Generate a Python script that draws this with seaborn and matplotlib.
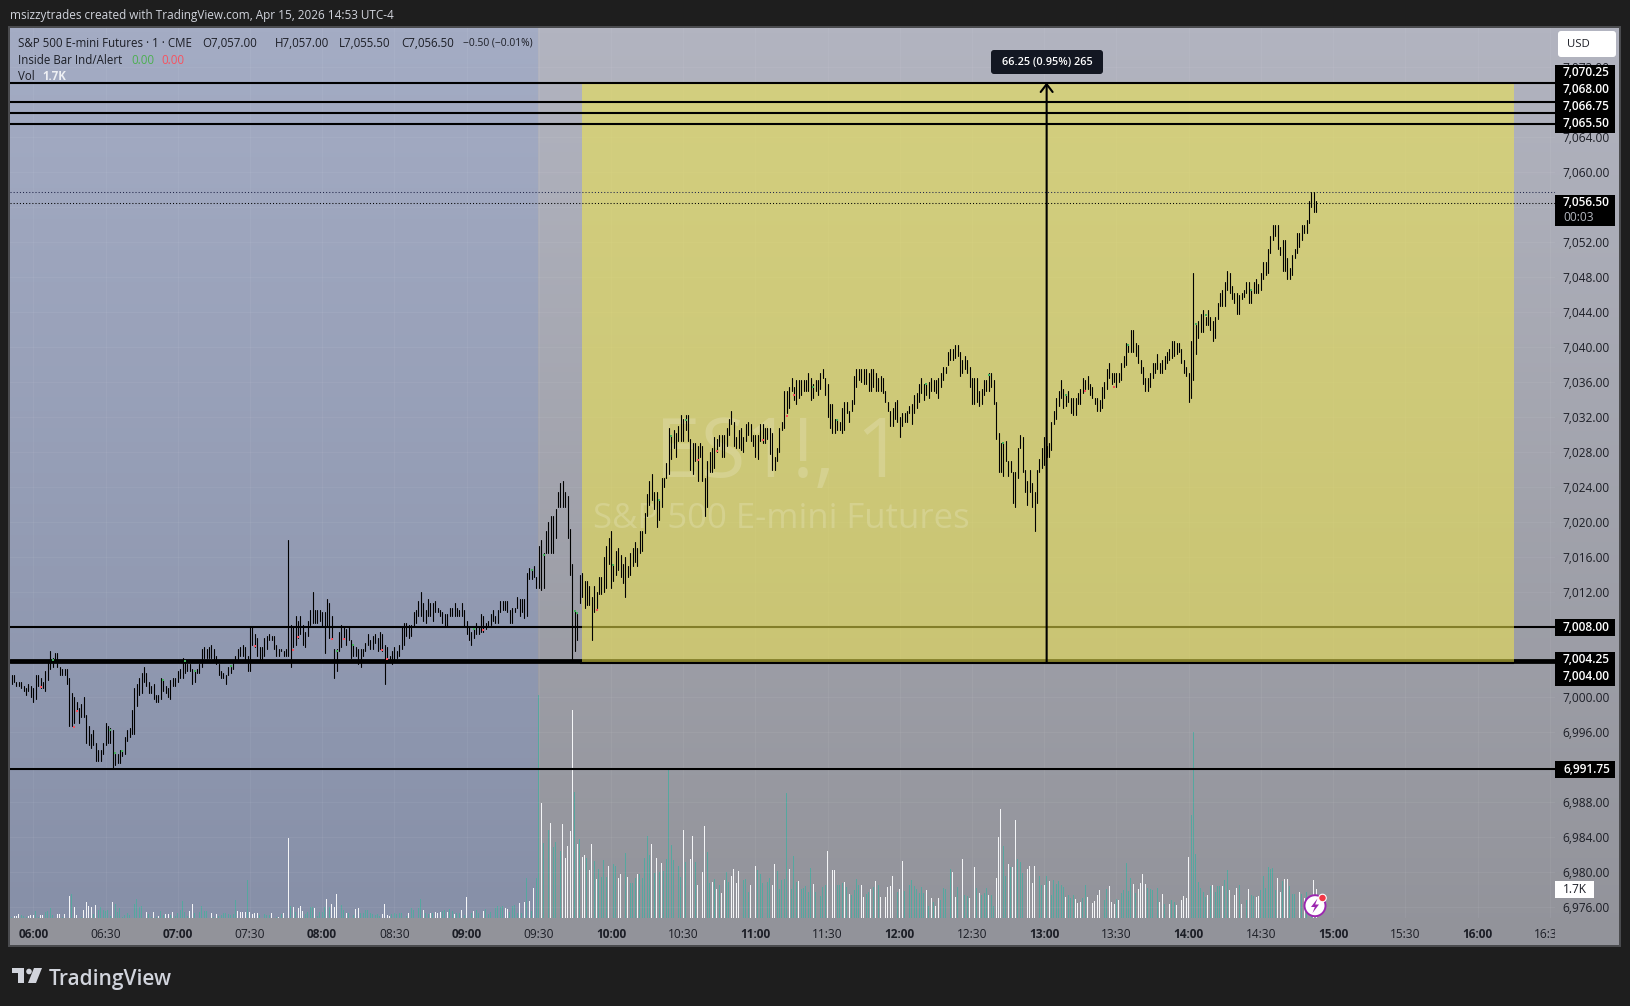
import numpy as np
import pandas as pd
import matplotlib
matplotlib.use("Agg")
import matplotlib.pyplot as plt
import seaborn as sns
from matplotlib.patches import Rectangle, FancyBboxPatch, Circle, Polygon

# --- data: one minute bars, first bar is 05:51 -------------------------------
first_minute = -9  # minutes after 06:00
price_base = 7000

bar_high = [
    2.5,2.5,1.75,1.75,1.75,1.25,1,1.5,1.25,1,
    2.5,2.5,2.25,1.75,3,4,5.25,4.5,5,5,
    3.5,3.25,3.25,3.25,2.25,.5,0,-.5,-1.25,-.75,
    0,-2,-3.25,-4.25,-3.75,-5.25,-6,-6,-5.25,-3,
    -3.25,-3.5,-3.75,-6.5,-6.5,-6,-6,-4.5,-3.75,-3.5,
    -1.5,1,1.5,2.25,2.75,3.5,2.75,1.75,1.25,1.5,
    .25,.25,2.25,2,1.25,1,2,2.25,2.25,3,
    3.25,4.5,4.25,3.75,3.75,3.25,3,3.25,3.75,5.5,
    5.75,5.5,5.75,6,5.5,4.75,3.75,3,2.75,2.5,
    3.5,3.5,4.25,4.75,5.5,5.75,6,5.75,4.75,8,
    8,7.25,6.75,5.75,5.75,6.75,7,7.25,7,7,
    6,5.5,5.5,5.25,5.5,18,8.25,8,9.25,8.75,
    9.25,8.25,7.5,8.75,10,12,10,10,10,9.75,
    9.75,11.25,10.75,9.25,5.5,5.5,7.5,8.25,8,7.75,
    8,6.5,6,5.75,5.5,5.5,5.5,6.25,7.25,6.5,
    7,7.25,6.75,7.5,7.25,6,5.75,4.75,5.25,5.75,
    5.25,6,8,8.5,8.5,8.25,8.25,9.75,10,11,
    12,10.75,10,11.25,10.75,10.75,11,10.25,10,9.75,
    9.5,9.5,10.25,10.25,10.75,10.25,10,10.75,10,8.75,
    8,7.5,7.75,8.5,8,9.5,9.25,8.5,8.75,9.5,
    10,9.25,10,11,11,11,11,10,10.25,10.25,
    11.5,11.25,11.25,11.25,14.25,14.75,14.5,15,13.75,17.25,
    18,16.5,19,20,20.75,20.75,21.5,23.5,24.5,24.75,
    23.5,23,19.25,15.25,9.75,9.5,14,14.25,13.25,13.25,
    12.75,11.5,12.75,12,13.75,13.75,16,17.25,18.25,19,
    15.25,16.75,17,16.25,15.25,16,15,16.5,17,17.75,
    17,19,19,21,23.25,24.75,25.5,23.5,23.5,22.5,
    25,25,26.75,30.75,30,30.5,30.25,31,32.25,31.75,
    32.25,32.25,29.5,29,29,28.75,29,28.75,25,27,
    28,28.5,29.75,29.5,30,30,30,30.75,31.75,32.75,
    31.5,29.75,30.5,30.75,29.75,31.25,31.5,31.25,30,30,
    30,31.25,31.25,30.75,30.75,30.75,30.25,27.5,28.5,30.75,
    31.5,35,35,35.5,36.5,35.5,36.25,36.25,36.25,36.25,
    36.25,37,36.5,35.75,36.25,36.25,37,37.5,36.5,35.75,
    33.5,33.5,31.75,31.75,31.5,33,33.75,33.75,32.75,34,
    36.75,37.5,37.5,37.5,37.5,37.5,37,37.5,37.5,37,
    36.5,36.75,36.5,35,33.75,32.75,33,33.75,34,32,
    32.5,32.5,32.75,33.25,33.5,34.5,34.75,35.75,36.5,35.75,
    35.75,36,36.5,36.25,36.25,36.5,37,37.75,37.75,39.5,
    39.75,39.75,40.25,40.25,39.5,38.5,39,38.5,37.75,36.5,
    36.5,36.5,35,35.25,36.25,36.25,37,37,36.25,33.75,
    30.25,29,29,29.25,27,27,25.75,25.75,28.5,30,
    29.75,26,24.75,26,24.5,23.5,26,27.25,28.5,29.75,
    28.75,29,31.5,32.75,34.25,35,36.25,35.25,34.5,35,
    34.25,34.25,34.25,34.75,35.25,36.5,36.25,36.75,35.75,35.5,
    34.25,34.25,34,35.5,36,37.5,38.25,37,37,37,
    37,38.25,39,40.5,40.25,42,42,40.5,40.25,38.5,
    37.75,36.5,36.5,37,38.25,38.25,39.25,38.25,38.5,39,
    39.5,39.75,40.75,40.75,40.5,40.5,39.75,38.5,37.75,37,
    40.75,48.5,42.5,43,43.75,44.25,43.5,44.25,43.5,43,
    43.5,45,46.25,46.5,47.5,48.75,48.5,47,46.25,46.25,
    46,46.25,46.5,47.5,47.5,46.5,47.5,47.75,47.25,48.5,
    49.75,49.75,51.25,52.75,54,54,54,51.5,52.25,52.25,
    50.25,49,50.5,51.25,53,53,54,54,54.5,56.75,57.75,57.75,56.75,
]
bar_low = [
    1.5,1.75,1.25,1.25,1,.75,.25,.75,0,-.5,
    -.25,1.25,1,1,.75,2,3.25,3.5,4,3.5,
    2.5,2.5,2.5,1.5,-3.25,-3.25,-3,-1.5,-3,-2.25,
    -2.25,-5.25,-5.5,-5.75,-5.5,-7.25,-7.25,-7.25,-6.5,-5.5,
    -5.25,-5.25,-8.25,-7.75,-7.5,-7.5,-6.75,-6.5,-5,-4.5,
    -4.25,-4.25,-1,.25,.5,1.75,1.25,.5,.5,-.25,
    -.5,-.5,-.25,.75,.5,0,-.25,1.25,1.25,1.75,
    2.25,2.25,2.75,3,3,1.5,1.75,2.75,2.75,3.5,
    4.5,4.5,4.5,4.5,4.25,3.75,2.5,2.25,2.25,1.5,
    2.5,2.75,3.25,4,4.25,4.75,4.75,4,3,3,
    6,5.75,4.75,4.25,4.25,4.75,5.5,6.5,6.5,5.5,
    4.75,4.75,5.25,4.75,4.75,4.75,3.5,5.75,6,6.75,
    7.25,6,5.75,7,8.25,8.5,8.5,8.5,8.75,8,
    5,8,6.75,6.75,2.25,3,5.25,5.75,6.75,6,
    6.5,4.5,4.75,4.75,3.75,3.5,4.75,5.25,6,5.5,
    5.5,6.25,5.25,5.5,5.25,1.5,4.5,4,3.75,4,
    4.5,4.75,5.5,6,7,6.75,7,8,8.5,9.25,
    9.25,8.75,8.5,9.25,9.25,8.75,9.75,9.75,9.25,8.5,
    8,8,9.25,9.25,9.25,9.25,9.25,9.25,8,7.25,
    6.5,6,6.75,7.25,7.25,7.5,7.5,7.75,8,8.25,
    8.75,8.5,8.5,9.75,10,10,9.75,8.5,8.5,9.75,
    10.25,9.25,9.75,9,9.25,13.5,13.5,13.75,12.5,12.5,
    12.25,12.5,16.5,16.5,16.5,16.5,18.25,21.75,21.75,21.75,
    21.75,18.25,14,4.25,5.25,6.5,10.75,11.5,10.25,10.5,
    10.5,6.5,9.75,10.25,11.75,11.75,12,12.5,15.25,12.5,
    13.25,14,14.5,13.75,13,11.5,13.75,14,15,15.5,
    15,16.5,16.75,18.75,20.75,22,22.5,21.5,19.5,20.25,
    21.75,24,25,25.5,27.25,28.5,27.5,29.25,29.25,29.25,
    30.5,29.25,26,25.5,27,24.75,27.5,24.75,20.75,21.75,
    25.75,25.75,26.25,28,28.75,27.5,27.5,28.75,30,31.25,
    28.75,28.5,28.5,28.25,28,29.25,30,29.25,28.75,27.5,
    27.25,29.25,29,29,29.5,27.75,26,26,27,28,
    30.5,30.75,32.5,33,35,34,33.5,34.25,34.5,35,
    35,35,34,34.25,35,34.5,35.25,36.5,34.5,32,
    30.75,30.25,30.25,30.5,30.5,30.25,30.5,32.5,31.5,32.75,
    33.5,35.5,36.25,36,35.75,35.75,35,35,35.5,35,
    35,35,34.75,33.75,32.75,31,31,31.75,31.5,29.75,
    31,31.5,31.5,32.5,31.25,32.5,33,33.75,34.75,34,
    34.5,34.25,35,35,34.75,34.25,35.5,36.25,37,38,
    38.5,38.5,38.75,39,36.75,37,37.5,37,35.5,33.5,
    33.5,33.75,33.25,33.5,34.5,35,35,35.5,33.5,29.5,
    25.75,25.75,25.25,27,25.25,25.75,22.25,21.75,25,28.5,
    25.75,23.5,22,23.5,21.75,19,22.25,25.75,26.25,26.5,
    27.5,27.5,28.25,31.25,31.75,33.25,34.25,33,33.25,33.75,
    32.5,32.25,32.25,33.5,33.5,34.75,35.25,35.25,34.5,34.25,
    33.5,32.75,32.75,33,34.25,35.25,36.5,35.75,36,35.5,
    36,36.25,37.75,38,39.5,39.5,39.5,39,38.25,37,
    35.75,35,35,35.5,36.5,37,37.5,37,37,37.5,
    38.25,38.5,38.75,39,39.25,39.5,38.25,37,36.75,33.75,
    34.25,36.25,39.25,41,41.75,41.75,42.5,42.5,42,40.75,
    41,43.25,44.75,44.75,44.75,46.5,46.25,45.5,45,43.75,
    43.75,45.5,45.75,46.25,45,45,46.25,46.25,46.25,46.5,
    47.75,48.25,48.5,50.75,52.25,52.75,51.25,50.5,48.75,48.75,
    47.75,47.75,48.25,50.25,50.75,51.5,52.25,53,53,54.25,56,55.5,55.5,
]

# volume in thousands, t = teal (up), w = white (down)
vol_k = [
    .08,.1,.12,.26,.2,.12,.08,.12,.2,.16,
    .44,.06,.16,.16,.36,.4,.58,.16,.1,.26,
    .26,.06,.22,.3,1.36,1.48,.64,.2,.4,.06,
    .46,1,.7,.66,.26,.76,.5,.68,.46,.4,
    .46,.1,1,.82,.36,.58,.06,.2,.3,.16,
    1.2,.86,1.14,.66,.74,.56,.34,.26,.08,.34,
    .06,.1,.44,.16,.26,.22,.16,.34,.1,.32,
    .46,1.06,.36,.1,.4,.86,.3,.3,.34,.74,
    .44,.4,.26,.32,.08,.26,.12,.2,.28,.28,
    .22,.2,.24,1.08,.4,.36,.36,.36,2.3,.36,
    .24,.32,.28,.2,.2,.26,.2,.2,.28,.4,
    .08,.08,.26,.28,.1,4.87,.74,.66,.36,.6,
    .72,.42,.26,.36,.66,.66,.6,.1,.36,.36,
    .66,1.16,.66,.84,.64,1.44,.36,.76,.5,.3,
    .32,.36,.16,.56,.6,.3,.3,.5,.5,.3,
    .26,.16,.26,.1,.26,.86,.18,.12,.24,.3,
    .26,.3,.3,.36,.1,.3,.6,.5,.5,.6,
    1.16,.46,.3,.26,.3,.3,.34,.3,.36,.4,
    .5,.36,.56,.4,.26,.3,.32,.5,.2,1.3,
    1,.3,.4,.46,.3,.7,.4,.56,.26,.36,
    .3,.6,.7,.66,.7,.6,.56,.34,.7,.76,
    .3,.9,.3,1,2.44,1.06,.4,1.8,2.44,13.5,
    6.95,4.57,5.94,5.33,5.74,4.32,4.6,5.43,4.06,5.7,
    3.66,4.36,5.27,12.6,7.64,4.48,4.79,3.72,3.82,3.66,
    2.9,4.5,3.47,2.38,2.95,2.5,3.5,2.5,3.15,5.7,
    3.25,3.15,2.42,2.67,3.4,3.96,2.5,2.1,2.1,2.42,
    2.67,2.67,2.42,3.66,4.97,3.82,4.48,2.75,3.64,2.8,
    3.35,2.87,3.56,9.07,4.42,3.5,2.67,3.15,2.5,5.33,
    3.4,3.92,3.6,4.97,3.4,2,1.86,2.8,5.58,4,
    2.14,2.2,2.34,1.74,2,1.54,2.3,2.8,2.2,2.55,
    2.97,2.1,2.85,1.6,2.3,2.34,1.6,2,2.2,3.15,
    2.9,2.67,2.1,2.14,2.2,2.4,2,3.27,2.85,1.74,
    2.3,2.34,7.6,2.97,1.74,3.76,2.2,2.26,1.78,1.82,
    1.94,1.6,3.05,2.06,1.58,1.82,1.33,1.86,2,4.06,
    3.88,2.9,2.9,1.98,2,2.14,2.2,1.9,1.45,1.37,
    1.7,2.34,2,2,1.3,1.45,1.6,1.74,1.9,2.24,
    2,1.25,1.3,1.25,1.86,1.94,2.55,1.94,1.58,1.76,
    3.45,1.62,1.9,2,2.3,1.94,1.74,1.54,1.9,1.5,
    1.7,.7,1.2,1,.73,1.2,1.1,1.8,1.74,1.4,
    3,2.8,1.25,1.86,1.33,3.55,1.4,1.33,1.2,1.8,
    3.07,1.8,1.5,1.4,1.54,1.8,1.4,1.4,.7,2.4,
    4.93,6.6,4.36,2.55,3.27,3.07,3.07,5.94,3.55,3.4,
    2.7,3,2.95,3.15,2.1,3.15,4.97,2.55,2,2,
    2.55,2.24,1.4,2.3,2.06,2.24,2,1.9,1.25,1.37,
    1.2,1.4,1.13,.93,.97,1.2,2,1.3,1.13,.93,
    1.05,1.4,1.7,1.17,1.07,1.78,1.92,1,.83,1.17,
    1.07,1.5,1.68,3.35,1.64,2.4,2.04,1.5,1.74,2.14,
    2.65,2.04,1.82,1.78,1.68,1.37,1.8,.95,1.43,.87,
    .7,.87,1.11,.97,.77,.75,1.07,1.35,1.23,3.68,
    6.22,11.25,3.9,2.16,1.84,1.6,1.27,1.41,1.92,1.98,
    1.56,1.96,1.94,1.94,2.28,2.89,1.68,1.72,1.37,1.8,
    1.98,.87,1.27,1.11,1.74,1.37,1.31,1.27,1.31,1.68,
    2.53,1.8,3.09,2.97,3.05,1.68,2.4,1.56,2.24,2.34,
    2.34,1.92,1.47,1.43,1.56,1.58,1.43,1.21,1.58,4.22,
    1.11,2.28,1.74,
]
vol_side = (
    "twwwtttwww" "ttwwtttttw" "wtwwwtwwwt" "wwwwtwtttt" "ttwttttttt"
    "wtttttwttw" "twttwwtwtt" "ttttwwtttt" "tttwtwtttt" "ttttwwwwtw"
    "wwwtttttww" "twtwtwtwtw" "wwttttwttt" "twtwwwtttw" "twtwwttttt"
    "ttttwwwwtt" "tttttwttwt" "twttwtwwwt" "twttwttwtw" "wtwtttwttt"
    "wttttwwttt" "twtwtwtwtt" "wtttwttttw" "wwwwtwtwwt" "wwtwttttww"
    "ttwwttwttt" "wtttttwtwt" "wtttttwttw" "ttwwtwtwwt" "twtwtwwttw"
    "wwwttttwww" "tttwttwwtt" "tttwtttwtt" "tttwtwtttw" "wwwtttwtwt"
    "tttwwttwtw" "twwwwwwttw" "wttttttttt" "wtwtwwtttt" "twwttwttww"
    "wtwtttwttw" "wwttwtwwtt" "twwwwwwttw" "twttttttwt" "ttwwwttwww"
    "wwwtttwwwt" "wtttttwtww" "wwtttwtwwt" "twttwwwwww" "tttttttwtw"
    "tttwttwwww" "twttwttwwt" "ttttttwwtw" "wttttwtwtt" "tww"
)

# inside bar markers (minute, price above base)
inside_up_t = [8,32,34,37,54,63,67,82,126,133,183,207,212,225,226,241,260,265,271,324,334,371,397,403,429,455,483,487,506]
inside_up_p = [4.3,-3.7,-6.4,-6.2,2,4.1,3.05,3.55,5.3,6,7.8,14.5,16.3,9.8,9.6,15.1,22.5,29.8,31.7,35.5,31.7,35.8,36.8,29,34.5,40.3,42.7,43.7,46.5]
inside_dn_t = [3,17,18,92,108,110,124,129,145,147,187,234,276,284,303,313,316,437,449]
inside_dn_p = [1.2,-3.4,-1.6,5.8,5.4,6.85,6.65,6.65,5.4,4.4,7.7,10,27.1,28.1,29.4,32.1,34.5,35.05,35.5]

level_prices = [7070.25, 7068.00, 7066.75, 7065.50, 7008.00, 7004.25, 7004.00, 6991.75]
last_price = 7056.50
session_high = 7057.75
range_top, range_bottom = 7070.25, 7004.00
range_label = "66.25 (0.95%) 265"
price_ticks = list(range(6976, 7076, 4))
time_ticks = list(range(0, 631, 30))

# --- layout, in pixels of the 1630x1006 image --------------------------------
W, H = 1630, 1006
PLOT_L, PLOT_R, PLOT_T, PLOT_B = 10.3, 1554.7, 28, 918
PANEL_R, PANEL_B = 1619, 945
PX_PER_MIN, X_0600 = 2.407, 33.3
PX_PER_PT, Y_6976 = 8.75, 907.2
PX_PER_K = 16.5
BG, TEXT_LIGHT, TEXT_DARK = "#1e1e1e", "#d1d4dc", "#1c1e26"
TEAL, WHITE = "#56a79f", "#f4f5f7"

sns.set_style("white")
plt.rcParams["font.family"] = ["Open Sans", "DejaVu Sans"]
plt.rcParams["font.size"] = 8.6

fig = plt.figure(figsize=(W / 100, H / 100), dpi=100, facecolor=BG)


def axes_px(l, r, t, b):
    return fig.add_axes([l / W, 1 - b / H, (r - l) / W, (b - t) / H])


def vgrad(top, bottom, n=200):
    top, bottom = np.array(top) / 255, np.array(bottom) / 255
    return np.linspace(top, bottom, n)[:, None, :]


# background panel with the two session shades
bg = axes_px(0, W, 0, H)
bg.set_zorder(0)
bg.set_xlim(0, W)
bg.set_ylim(H, 0)
bg.axis("off")
bg.imshow(vgrad((178, 180, 192), (146, 147, 154)), extent=(PLOT_L, PANEL_R, PANEL_B, PLOT_T), aspect="auto")
bg.imshow(vgrad((164, 172, 196), (135, 144, 168)), extent=(PLOT_L, 537.4, PLOT_B, PLOT_T), aspect="auto")
bg.set_xlim(0, W)
bg.set_ylim(H, 0)
bg.add_patch(Rectangle((PLOT_L - 1, PLOT_T - 1), PANEL_R - PLOT_L + 2, PANEL_B - PLOT_T + 2,
                       fill=False, ec="#4c4d50", lw=1.4))

# price axes
ax = axes_px(PLOT_L, PLOT_R, PLOT_T, PLOT_B)
ax.set_zorder(2)
ax.patch.set_visible(False)
xlim = ((PLOT_L - X_0600) / PX_PER_MIN, (PLOT_R - X_0600) / PX_PER_MIN)
ylim = (6976 + (Y_6976 - PLOT_B) / PX_PER_PT, 6976 + (Y_6976 - PLOT_T) / PX_PER_PT)

# volume axes sit under the price axes
ax_vol = ax.twinx()
ax_vol.set_zorder(1)
ax_vol.patch.set_visible(False)

minutes = first_minute + np.arange(len(bar_high))
bars = pd.DataFrame({"minute": minutes, "high": np.array(bar_high) + price_base,
                     "low": np.array(bar_low) + price_base})
bars["bar"] = bars.index
bars_long = bars.melt(id_vars=["bar", "minute"], value_vars=["high", "low"], value_name="price")

side = list(vol_side)
n_vol = min(len(vol_k), len(side))
vol = pd.DataFrame({"minute": first_minute + np.arange(n_vol), "volume": vol_k[:n_vol], "side": side[:n_vol]})
sns.barplot(data=vol, x="minute", y="volume", hue="side", native_scale=True, dodge=False, width=0.38,
            palette={"t": TEAL, "w": WHITE}, saturation=1, linewidth=0, errorbar=None, legend=False, ax=ax_vol)
ax_vol.set_ylim(0, (PLOT_B - PLOT_T) / PX_PER_K)
ax_vol.axis("off")

# faint grid
for m in time_ticks:
    ax.axvline(m, color="white", alpha=0.05, lw=0.8, zorder=0)
for p in price_ticks:
    ax.axhline(p, color="white", alpha=0.05, lw=0.8, zorder=0)

# levels under the yellow box
ax.axhline(7008.00, color="black", lw=1.5, zorder=1)
ax.axhline(7004.25, color="black", lw=2.0, zorder=1)
ax.axhline(7004.00, color="black", lw=2.0, zorder=1)
ax.axhline(6991.75, color="black", lw=1.5, zorder=1)

# long position box
box_l, box_r = 228, 615
ax.add_patch(Rectangle((box_l, range_bottom), box_r - box_l, range_top - range_bottom,
                       fc=(240 / 255, 230 / 255, 75 / 255), alpha=0.55, lw=0, zorder=2))
ax.plot([box_l - 1, box_r], [7003.9, 7003.9], color="black", lw=1.5, zorder=3, solid_capstyle="butt")

# watermark
ax.text(655 / W, 1 - 456 / H, "ES1!, 1", transform=fig.transFigure, fontsize=59, color="white", alpha=0.18,
        va="center", ha="left", zorder=3)
ax.text(593 / W, 1 - 519 / H, "S&P 500 E-mini Futures", transform=fig.transFigure, fontsize=25, color="white",
        alpha=0.18, va="center", ha="left", zorder=3)

for p in level_prices[:4]:
    ax.axhline(p, color="black", lw=1.5, zorder=3)
ax.axhline(last_price, color="black", lw=0.75, ls=(0, (1, 2)), zorder=3)
ax.axhline(session_high, color="#20264a", lw=0.75, ls=(0, (1, 2)), zorder=3)

sns.lineplot(data=bars_long, x="minute", y="price", units="bar", estimator=None, color="black", lw=0.8,
             sort=False, ax=ax, zorder=4, legend=False)
sns.scatterplot(x=inside_up_t, y=np.array(inside_up_p) + price_base, color="#43b05c", s=2.5, marker="s", lw=0, ax=ax, zorder=5)
sns.scatterplot(x=inside_dn_t, y=np.array(inside_dn_p) + price_base, color="#f7525f", s=2.5, marker="s", lw=0, ax=ax, zorder=5)

# measure arrow
ax.annotate("", xy=(421, range_top), xytext=(421, range_bottom), zorder=6,
            arrowprops=dict(arrowstyle="->,head_length=0.65,head_width=0.5", color="black", lw=1.5, shrinkA=0, shrinkB=0))

ax.set_xlim(xlim)
ax.set_ylim(ylim)
ax_vol.set_xlim(xlim)
ax.set_xlabel("")
ax.set_ylabel("")
for s in ax.spines.values():
    s.set_visible(False)

ax.yaxis.tick_right()
ax.set_yticks(price_ticks, [f"{p:,.2f}" for p in price_ticks])
ax.tick_params(axis="y", length=0, pad=5.8, labelsize=8.6, labelcolor=TEXT_DARK)
ax.set_xticks(time_ticks, [f"{6 + m // 60:02d}:{m % 60:02d}" for m in time_ticks])
ax.tick_params(axis="x", length=0, pad=7, labelsize=8.6, labelcolor=TEXT_DARK)
clip = matplotlib.transforms.TransformedBbox(matplotlib.transforms.Bbox([[0, 0], [PLOT_R / W, 1]]), fig.transFigure)
for m, lab in zip(time_ticks, ax.get_xticklabels()):
    if m % 60 == 0:
        lab.set_fontweight("bold")
    lab.set_clip_box(clip)
    lab.set_clip_on(True)

# overlay for labels, boxes and logo
top = axes_px(0, W, 0, H)
top.set_zorder(10)
top.set_xlim(0, W)
top.set_ylim(H, 0)
top.axis("off")


def put(x, y, s, color=TEXT_DARK, size=8.6, **kw):
    kw.setdefault("va", "center")
    top.text(x, y, s, color=color, fontsize=size, **kw)


def price_y(p):
    return Y_6976 - (p - 6976) * PX_PER_PT


put(10, 15, "msizzytrades created with TradingView.com, Apr 15, 2026 14:53 UTC-4", color=TEXT_LIGHT, size=8.45)
put(18, 43, "S&P 500 E-mini Futures · 1 · CME", size=8.3)
put(202, 43, "O7,057.00", size=8.3)
put(275, 43, "H7,057.00", size=8.3)
put(339, 43, "L7,055.50", size=8.3)
put(401, 43, "C7,056.50", size=8.3)
put(463, 43, "−0.50 (−0.01%)", size=7.4)
put(18, 60, "Inside Bar Ind/Alert", size=8.3)
put(131, 60, "0.00", color="#4caf50", size=8.3)
put(161, 60, "0.00", color="#f7525f", size=8.3)
put(18, 76.5, "Vol", size=8.3)
put(42, 76.5, "1.7K", color="#eef0f4", size=8.3, fontweight="bold")

# measure label and USD button
top.add_patch(FancyBboxPatch((993, 52), 108, 20, boxstyle="round,pad=2,rounding_size=3", fc="#131722", ec="none"))
put(1047.5, 62, range_label, color="white", size=7.8, ha="center", fontweight="semibold")
top.add_patch(FancyBboxPatch((1560, 33), 54, 22, boxstyle="round,pad=2,rounding_size=3", fc="white", ec="none"))
put(1567, 44.5, "USD", size=8.2)

# price labels on the right
LAB_L, LAB_R = 1555, 1615
top.add_patch(Rectangle((LAB_L, 65), LAB_R - LAB_L, 67.7, fc="black", lw=0))
for y, p in zip([72.7, 89.7, 106.7, 123.7], level_prices[:4]):
    put(1563, y, f"{p:,.2f}", color="white", fontweight="semibold")
top.add_patch(Rectangle((LAB_L, 195), LAB_R - LAB_L, 30.7, fc="black", lw=0))
put(1563, 202.5, f"{last_price:,.2f}", color="white", fontweight="semibold")
put(1563, 217, "00:03", color="#b5b8c0")
top.add_patch(Rectangle((LAB_L, price_y(7008) - 8.5), LAB_R - LAB_L, 17, fc="black", lw=0))
put(1563, price_y(7008), "7,008.00", color="white", fontweight="semibold")
top.add_patch(Rectangle((LAB_L, 652), LAB_R - LAB_L, 33.7, fc="black", lw=0))
put(1563, 659.7, "7,004.25", color="white", fontweight="semibold")
put(1563, 676.7, "7,004.00", color="white", fontweight="semibold")
top.add_patch(Rectangle((LAB_L, price_y(6991.75) - 8.5), LAB_R - LAB_L, 17, fc="black", lw=0))
put(1563, price_y(6991.75), "6,991.75", color="white", fontweight="semibold")
top.add_patch(Rectangle((LAB_L, 881), 38.6, 17, fc="white", lw=0))
put(1563, 889.5, "1.7K")

# lightning badge
top.add_patch(Circle((1315, 905.7), 10.5, fc="white", ec="#9c27b0", lw=1.4))
top.add_patch(Polygon([(1317.5, 898.5), (1311, 907), (1314.8, 907), (1312.5, 913), (1319, 904.5), (1315.2, 904.5)],
                      fc="#9c27b0", ec="none"))
top.add_patch(Circle((1322.5, 898), 3.8, fc="#f23645", ec="white", lw=0.8))

# TradingView logo
logo = TEXT_LIGHT
top.add_patch(Polygon([(12, 968), (24, 968), (24, 983), (18, 983), (18, 973), (12, 973)], fc=logo, ec="none"))
top.add_patch(Circle((29, 971.5), 2.8, fc=logo, ec="none"))
top.add_patch(Polygon([(34, 968), (42, 968), (36, 983), (28, 983)], fc=logo, ec="none"))
put(49, 979, "TradingView", color=logo, size=15, fontweight="semibold")

fig.savefig("out.png", dpi=100, facecolor=BG)
